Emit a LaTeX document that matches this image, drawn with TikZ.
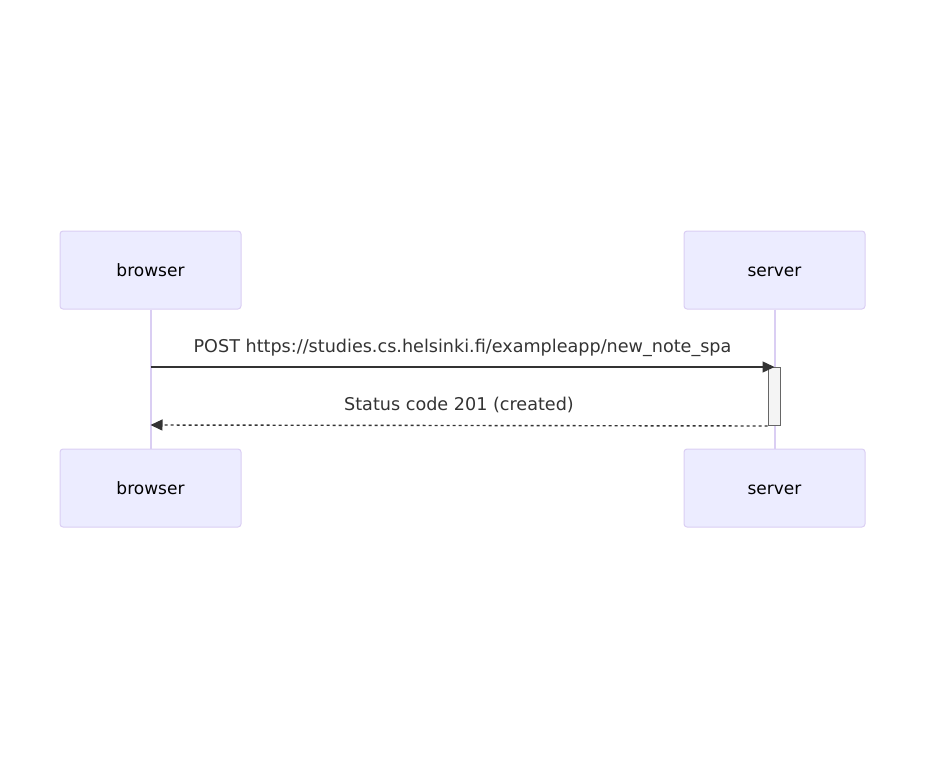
\documentclass[tikz,border=0pt]{standalone}
\usepackage{fontspec}
\setmainfont{DejaVu Sans}
\usetikzlibrary{arrows.meta,positioning,calc}
\definecolor{actfill}{HTML}{ECECFF}
\definecolor{actline}{HTML}{DACEF3}
\definecolor{msgcol}{HTML}{333333}
\definecolor{actbg}{HTML}{F4F4F4}
\definecolor{actgray}{HTML}{666666}
\tikzset{
 actor/.style={draw=actline,fill=actfill,rounded corners=3pt,line width=1pt,
             minimum width=181pt,minimum height=78pt,text height=14pt,text depth=1pt,
             font=\fontsize{17}{20}\selectfont},
 lifeline/.style={draw=actline,line width=2pt},
 msg/.style={-{Triangle[length=12pt,width=11pt]},draw=msgcol,line width=1.4pt},
 reply/.style={msg,dash pattern=on 3pt off 3pt},
 msglabel/.style={text=msgcol,font=\fontsize{17.6}{21}\selectfont,anchor=base,yshift=15pt},
 activation/.style={draw=actgray,fill=actbg,line width=1pt,minimum width=12pt,
             minimum height=58pt,inner sep=0pt}
}

\begin{document}
\begin{tikzpicture}[x=1pt,y=-1pt]
\useasboundingbox (0,0) rectangle (925,760);
% actors
\node[actor] (browser) at (150.5,270) {browser};
\node[actor] (server) at (774.5,270) {server};
\node[actor] (browserEnd) at (150.5,488) {browser};
\node[actor] (serverEnd) at (774.5,488) {server};
\draw[lifeline] (browser) -- (browserEnd);
\draw[lifeline] (server) -- (serverEnd);
% activation
\node[activation,anchor=north] (act) at (774,367) {};
% messages
\coordinate (b1) at (browser |- 0,367);
\coordinate (b2) at (browser |- 0,425);
\coordinate (s1) at (server |- 0,367);
\draw[msg] (b1) -- (s1)
  node[msglabel,midway] {POST https://studies.cs.helsinki.fi/exampleapp/new\_note\_spa};
\draw[reply] (act.south west) -- (b2)
  node[msglabel,midway] {Status code 201 (created)};
\end{tikzpicture}
\end{document}
